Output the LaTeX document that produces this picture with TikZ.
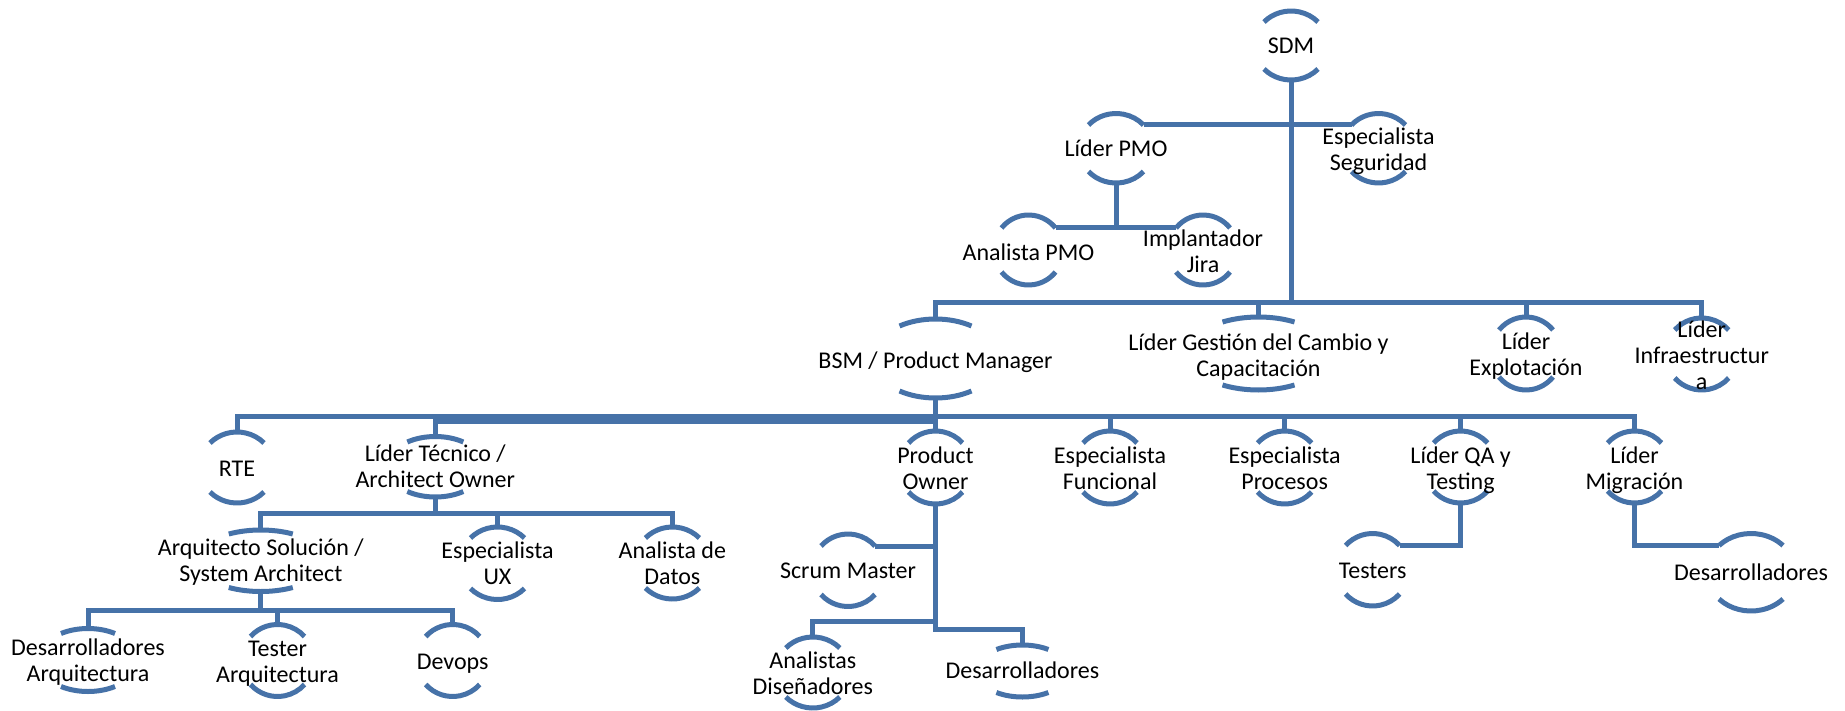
\documentclass[tikz,border=0pt]{standalone}
\usepackage{fontspec}
\setmainfont{Carlito}
\definecolor{lnblue}{HTML}{4672A8}
\tikzset{
  conn/.style={draw=lnblue, line width=2.5pt},
  arcline/.style={draw=lnblue, line width=2.5pt},
  lbl/.style={align=center, inner sep=0pt, font=\fontsize{12pt}{13pt}\selectfont, text=black}
}
% #1 name, #2 cx, #3 top y, #4 sag, #5 bottom y, #6 half chord, #7 text y, #8 text  (pixels, y downwards)
\newcommand{\arcnode}[8]{%
  \pgfmathsetmacro{\anRY}{(#5-#3)/2}%
  \pgfmathsetmacro{\anCY}{(#3+#5)/2}%
  \pgfmathsetmacro{\anDY}{\anRY-#4}%
  \pgfmathsetmacro{\anT}{asin(\anDY/\anRY)}%
  \pgfmathsetmacro{\anRXpt}{0.5*#6/cos(\anT)}%
  \pgfmathsetmacro{\anRYpt}{0.5*\anRY}%
  \coordinate (#1-t) at (#2,-#3);
  \coordinate (#1-b) at (#2,-#5);
  \coordinate (#1-tl) at (#2-#6,-#3-#4);
  \coordinate (#1-tr) at (#2+#6,-#3-#4);
  \draw[arcline] (#2-#6,-\anCY+\anDY) arc[start angle=180-\anT, end angle=\anT, x radius=\anRXpt pt, y radius=\anRYpt pt];
  \draw[arcline] (#2-#6,-\anCY-\anDY) arc[start angle=180+\anT, end angle=360-\anT, x radius=\anRXpt pt, y radius=\anRYpt pt];
  \node[lbl] (#1) at (#2,-#7) {\rule{0pt}{11pt}#8\rule[-3pt]{0pt}{3pt}};
}
\begin{document}
\begin{tikzpicture}[x=0.5pt,y=0.5pt]
\useasboundingbox (0,0) rectangle (1845,-711);
% level 0-1
\arcnode{sdm}{1291}{11}{11}{80}{27}{45.5}{SDM}
\arcnode{pmo}{1116}{113.5}{11.5}{183}{27.5}{149}{Líder PMO}
\arcnode{seg}{1378.5}{113.5}{11.5}{183}{27}{149.5}{Especialista\\Seguridad}
\arcnode{apmo}{1028.5}{215}{13}{285}{27}{252}{Analista PMO}
\arcnode{jira}{1203}{215}{13}{285}{27}{251.7}{Implantador\\Jira}
% level 2
\arcnode{bsm}{935.5}{319}{7}{398}{36}{360}{BSM / Product Manager}
\arcnode{gest}{1258.5}{317}{5}{390}{36}{355.5}{Líder Gestión del Cambio y\\Capacitación}
\arcnode{expl}{1526}{317}{13}{390}{27}{354.5}{Líder\\Explotación}
\arcnode{infra}{1701.7}{318}{12}{390}{27}{355}{Líder\\Infraestructur\\a}
% level 3
\arcnode{rte}{237}{432}{11}{503}{27}{468}{RTE}
\arcnode{lt}{435.3}{436.5}{5.5}{497}{28}{466.7}{Líder Técnico /\\Architect Owner}
\arcnode{po}{935.5}{431}{12}{504}{27}{468}{Product\\Owner}
\arcnode{func}{1110}{431}{12}{504}{27}{468}{Especialista\\Funcional}
\arcnode{proc}{1284.6}{431}{12}{504}{27}{468}{Especialista\\Procesos}
\arcnode{qa}{1460.6}{431}{12}{503}{27}{468.8}{Líder QA y\\Testing}
\arcnode{mig}{1634.5}{431}{12}{503}{27}{468.8}{Líder\\Migración}
% level 4
\arcnode{arq}{260.8}{530}{4}{591.5}{32}{560.5}{Arquitecto Solución /\\System Architect}
\arcnode{ux}{497.5}{527}{11}{599.5}{27}{563}{Especialista\\UX}
\arcnode{datos}{672.4}{527}{11}{599}{27}{563}{Analista de\\Datos}
\arcnode{sm}{848}{534}{12}{606.5}{27}{570}{Scrum Master}
\arcnode{ts}{1372.6}{533.5}{12}{606}{27}{570}{Testers}
\arcnode{dm}{1751}{533.5}{12}{611}{32}{572.7}{Desarrolladores}
% level 5
\arcnode{darq}{88}{628.5}{5}{691.5}{27}{660}{Desarrolladores\\Arquitectura}
\arcnode{tester}{277.5}{624.5}{12}{696.5}{27}{661}{Tester\\Arquitectura}
\arcnode{devops}{452.7}{624.5}{12}{696.5}{27}{661}{Devops}
\arcnode{ad}{812.8}{637}{11}{708}{27}{673}{Analistas\\Diseñadores}
\arcnode{dpo}{1022.4}{645}{4.5}{697}{26}{670.7}{Desarrolladores}
% junction coordinates
\coordinate (bus1) at (1291,-302);
\coordinate (bus3) at (935.5,-416);
\coordinate (bus3b) at (935.5,-421);
\coordinate (bus4) at (435.3,-513);
\coordinate (bus5) at (260.8,-610);
\coordinate (poj1) at (935.5,-621);
\coordinate (poj2) at (935.5,-629.3);
% connectors
\draw[conn] (pmo-tr) -- (seg-tl);
\draw[conn] (pmo-b) -- (pmo-b |- apmo-tr);
\draw[conn] (apmo-tr) -- (jira-tl);
\draw[conn] (sdm-b) -- (bus1);
\draw[conn] (bsm-t) |- (bus1) -| (infra-t);
\draw[conn] (gest-t) -- (gest-t |- bus1);
\draw[conn] (expl-t) -- (expl-t |- bus1);
\draw[conn] (rte-t) |- (bus3) -| (mig-t);
\draw[conn] (bsm-b) -- (bus3b);
\draw[conn] (lt-t) |- (bus3b);
\draw[conn] (po-t) -- (po-t |- bus3);
\draw[conn] (func-t) -- (func-t |- bus3);
\draw[conn] (proc-t) -- (proc-t |- bus3);
\draw[conn] (qa-t) -- (qa-t |- bus3);
\draw[conn] (lt-b) -- (bus4);
\draw[conn] (arq-t) |- (bus4) -| (datos-t);
\draw[conn] (ux-t) -- (ux-t |- bus4);
\draw[conn] (arq-b) -- (bus5);
\draw[conn] (darq-t) |- (bus5) -| (devops-t);
\draw[conn] (tester-t) -- (tester-t |- bus5);
\draw[conn] (po-b) -- (poj2) -| (dpo-t);
\draw[conn] (ad-t) |- (poj1);
\draw[conn] (sm-tr) -- (sm-tr -| po-b);
\draw[conn] (qa-b) |- (ts-tr);
\draw[conn] (mig-b) |- (dm-tl);
\end{tikzpicture}
\end{document}
